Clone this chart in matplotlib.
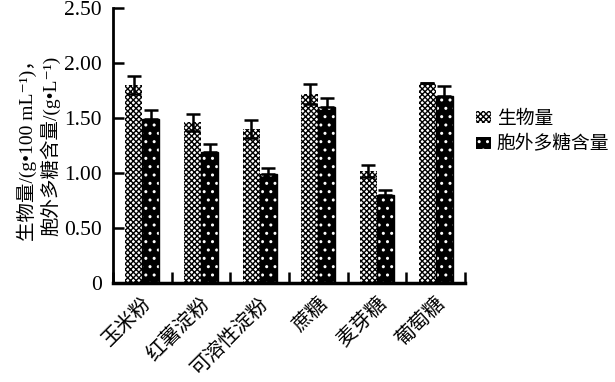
import numpy as np
import matplotlib
matplotlib.use("Agg")
from matplotlib import pyplot as plt

plt.rcParams['font.family'] = ['Liberation Serif', 'DejaVu Serif', 'Noto Sans CJK SC']
plt.rcParams['hatch.linewidth'] = 1.0

categories = ['玉米粉', '红薯淀粉', '可溶性淀粉', '蔗糖', '麦芽糖', '葡萄糖']
biomass = [1.80, 1.46, 1.40, 1.72, 1.02, 1.82]
biomass_err = [0.08, 0.075, 0.08, 0.09, 0.055, 0.0]
eps = [1.49, 1.19, 0.99, 1.60, 0.80, 1.70]
eps_err = [0.08, 0.07, 0.06, 0.08, 0.045, 0.09]
yticks = [0, 0.5, 1.0, 1.5, 2.0, 2.5]
ytick_labels = ['0', '0.50', '1.00', '1.50', '2.00', '2.50']

fig = plt.figure(figsize=(6.15, 3.82), dpi=100)
ax = fig.add_axes([0.184, 0.259, 0.572, 0.72])

x = np.arange(len(categories))
w = 0.29

# patterned bars (biomass)
b1 = ax.bar(x - w / 2, biomass, w, color='white', edgecolor='black', hatch='xxxxxx',
            linewidth=0, label='生物量', zorder=2)
ax.errorbar(x - w / 2, biomass, yerr=biomass_err, fmt='none', ecolor='black',
            elinewidth=1.8, capsize=5, capthick=1.8, zorder=3)

# black bars with white dots (polysaccharide)
ax.bar(x + w / 2, eps, w, color='black', edgecolor='white', hatch='..',
       linewidth=0, zorder=2)
ax.bar(x + w / 2, eps, w, color='none', edgecolor='black', linewidth=1, zorder=2.5)
ax.errorbar(x + w / 2, eps, yerr=[[0] * len(eps), eps_err], fmt='none', ecolor='black',
            elinewidth=1.8, capsize=5, capthick=1.8, zorder=3)
b2 = ax.bar([0], [0], 0, color='black', edgecolor='white', hatch='..', linewidth=0,
            label='胞外多糖含量')

ax.set_xlim(-0.5, len(categories) - 0.5)
ax.set_ylim(0, 2.5)
ax.set_yticks(yticks)
ax.set_yticklabels(ytick_labels, fontsize=15.5)
ax.set_xticks(x)
ax.set_xticklabels(categories, rotation=45, ha='right', rotation_mode='anchor', fontsize=14.5)
ax.set_xticks(np.arange(len(categories) + 1) - 0.5, minor=True)
ax.tick_params(axis='x', which='major', length=0, pad=8)
ax.tick_params(axis='x', which='minor', direction='in', length=8, width=1.8)
ax.tick_params(axis='y', direction='in', length=8, width=1.8, pad=8)

ax.spines['top'].set_visible(False)
ax.spines['right'].set_visible(False)
ax.spines['left'].set_linewidth(2)
ax.spines['bottom'].set_linewidth(2.5)

ax.set_ylabel('生物量/(g•100 mL⁻¹)，\n胞外多糖含量/(g•L⁻¹)', fontsize=14,
              linespacing=1.15, labelpad=3)

ax.legend(handles=[b1, b2], loc='center left', bbox_to_anchor=(1.0, 0.55), frameon=False,
          fontsize=13.5, handlelength=0.8, handleheight=0.6, handletextpad=0.3,
          labelspacing=0.4, borderaxespad=0.2)

fig.savefig('out.png', dpi=100)
